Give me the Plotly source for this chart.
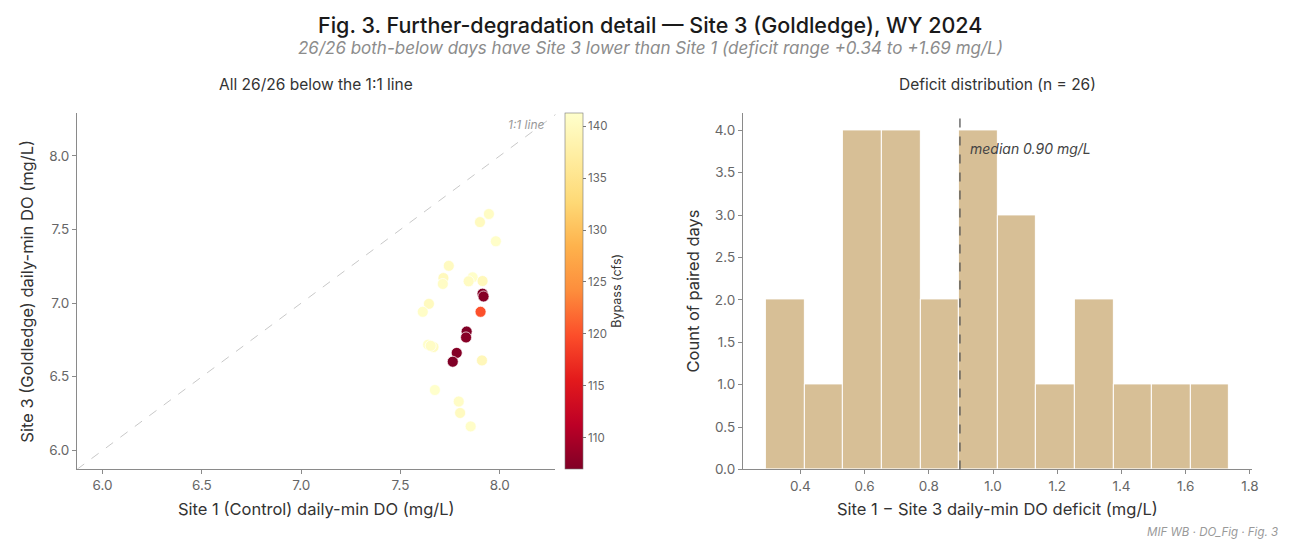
import numpy as np
import plotly.graph_objects as go

# ---------------- data ----------------
site1_do = [7.945, 7.900, 7.980, 7.743, 7.716, 7.713, 7.863, 7.843, 7.913, 7.913,
            7.643, 7.612, 7.903, 7.833, 7.830, 7.639, 7.666, 7.783, 7.763, 7.910,
            7.673, 7.793, 7.800, 7.853, 7.918, 7.652]
site3_do = [7.605, 7.550, 7.420, 7.253, 7.170, 7.130, 7.175, 7.148, 7.150, 7.064,
            6.995, 6.941, 6.941, 6.807, 6.767, 6.718, 6.702, 6.662, 6.602, 6.611,
            6.410, 6.332, 6.254, 6.163, 7.045, 6.710]
bypass_cfs = [140.5, 140.0, 141.0, 140.2, 139.8, 140.6, 141.0, 140.3, 139.6, 107.2,
              140.0, 140.8, 120.0, 107.0, 107.5, 141.0, 140.4, 107.3, 107.0, 139.5,
              141.3, 140.7, 140.1, 140.9, 107.4, 140.6]
cbar_ticks = [110, 115, 120, 125, 130, 135, 140]
scatter_ticks = [6.0, 6.5, 7.0, 7.5, 8.0]
scatter_lim = [5.871, 8.28]
scatter_ylim = [5.875, 8.29]
hist_bin_start = 0.2934
hist_bin_size = 0.1202
hist_bin_end = 1.7358
hist_xticks = [0.4, 0.6, 0.8, 1.0, 1.2, 1.4, 1.6, 1.8]
hist_yticks = [0.0, 0.5, 1.0, 1.5, 2.0, 2.5, 3.0, 3.5, 4.0]

deficit = (np.array(site1_do) - np.array(site3_do)).round(3)
median_def = float(np.median(deficit))
n = len(deficit)

W, H = 1290, 542
FONT = "Inter"
AX_COL = "#8a8a8a"
TICK_COL = "#666666"
LAB_COL = "#333333"

ylorrd_r = ["#800026", "#bd0026", "#e31a1c", "#fc4e2a", "#fd8d3c",
            "#feb24c", "#fed976", "#ffeda0", "#ffffcc"]
cscale = [[i / (len(ylorrd_r) - 1), c] for i, c in enumerate(ylorrd_r)]

fig = go.Figure()

# 1:1 line
lo = min(scatter_lim[0], scatter_ylim[0])
hi = max(scatter_lim[1], scatter_ylim[1])
fig.add_trace(go.Scatter(x=[lo, hi], y=[lo, hi], mode="lines",
                         line=dict(color="#c8c8c8", width=1, dash="dash"),
                         xaxis="x", yaxis="y", showlegend=False, hoverinfo="skip"))

fig.add_trace(go.Scatter(
    x=site1_do, y=site3_do, mode="markers", xaxis="x", yaxis="y", showlegend=False,
    marker=dict(size=11, color=bypass_cfs, colorscale=cscale,
                cmin=min(bypass_cfs), cmax=max(bypass_cfs),
                line=dict(color="white", width=0.7),
                colorbar=dict(
                    x=560 / W, xanchor="left", xpad=0, ypad=0,
                    thickness=18, thicknessmode="pixels",
                    len=(467.7 - 106.7) / H, lenmode="fraction",
                    y=(H - 467.7) / H, yanchor="bottom",
                    outlinewidth=0.6, outlinecolor="#777",
                    tickvals=cbar_ticks, ticks="outside", ticklen=3, tickcolor="#777",
                    tickfont=dict(family=FONT, size=11.5, color=TICK_COL),
                    title=dict(text="Bypass (cfs)", side="right",
                               font=dict(family=FONT, size=12.5, color=LAB_COL)),
                ))))

fig.add_trace(go.Histogram(
    x=deficit, xaxis="x2", yaxis="y2", showlegend=False,
    xbins=dict(start=hist_bin_start, end=hist_bin_end + 1e-6, size=hist_bin_size),
    autobinx=False,
    marker=dict(color="rgb(215,191,150)", line=dict(color="white", width=1))))

axis_common = dict(showgrid=False, zeroline=False, showline=True, linecolor=AX_COL,
                   linewidth=1, ticks="outside", ticklen=4, tickcolor=AX_COL,
                   tickfont=dict(family=FONT, size=13.5, color=TICK_COL), mirror=False)

fig.update_layout(
    width=W, height=H, margin=dict(l=0, r=0, t=0, b=0),
    paper_bgcolor="white", plot_bgcolor="white", bargap=0,
    xaxis=dict(domain=[69.3 / W, 550 / W], range=scatter_lim, tickvals=scatter_ticks,
               tickformat=".1f", anchor="y", **axis_common),
    yaxis=dict(domain=[(H - 467.7) / H, (H - 106.7) / H], range=scatter_ylim,
               tickvals=scatter_ticks, tickformat=".1f", anchor="x", **axis_common),
    xaxis2=dict(domain=[738.3 / W, 1250.3 / W], range=[0.221, 1.808], tickvals=hist_xticks,
                tickformat=".1f", anchor="y2", **axis_common),
    yaxis2=dict(domain=[(H - 468.3) / H, (H - 107) / H], range=[0, 4.2], tickvals=hist_yticks,
                tickformat=".1f", anchor="x2", **axis_common),
)

# median line
fig.add_shape(type="line", xref="x2", yref="y2 domain", x0=median_def, x1=median_def,
              y0=0, y1=1, line=dict(color="#555555", width=1.3, dash="dash"))

ann = []
ann.append(dict(text="Fig. 3. Further-degradation detail — Site 3 (Goldledge), WY 2024",
                x=0.5, y=1 - 17 / H, xref="paper", yref="paper", showarrow=False,
                xanchor="center", yanchor="middle",
                font=dict(family=FONT, size=21.5, color="#1a1a1a", weight=500)))
ann.append(dict(text=f"<i>{n}/{n} both-below days have Site 3 lower than Site 1 (deficit range "
                     f"+{deficit.min():.2f} to +{deficit.max():.2f} mg/L)</i>",
                x=0.5, y=1 - 41 / H, xref="paper", yref="paper", showarrow=False,
                xanchor="center", yanchor="middle",
                font=dict(family=FONT, size=17, color="#8c8c8c")))
ann.append(dict(text=f"All {n}/{n} below the 1:1 line", x=(69.3 + 550) / 2 / W, y=1 - 78 / H,
                xref="paper", yref="paper", showarrow=False, xanchor="center", yanchor="middle",
                font=dict(family=FONT, size=15.5, color=LAB_COL)))
ann.append(dict(text=f"Deficit distribution (n = {n})", x=(738.3 + 1250.3) / 2 / W, y=1 - 78 / H,
                xref="paper", yref="paper", showarrow=False, xanchor="center", yanchor="middle",
                font=dict(family=FONT, size=15.5, color=LAB_COL)))
ann.append(dict(text="Site 1 (Control) daily-min DO (mg/L)", x=(69.3 + 550) / 2 / W, y=1 - 509 / H,
                xref="paper", yref="paper", showarrow=False, xanchor="center", yanchor="middle",
                font=dict(family=FONT, size=16.5, color=LAB_COL)))
ann.append(dict(text="Site 1 − Site 3 daily-min DO deficit (mg/L)", x=(738.3 + 1250.3) / 2 / W,
                y=1 - 509 / H, xref="paper", yref="paper", showarrow=False, xanchor="center",
                yanchor="middle", font=dict(family=FONT, size=16.5, color=LAB_COL)))
ann.append(dict(text="Site 3 (Goldledge) daily-min DO (mg/L)", x=19 / W, y=1 - 287 / H,
                xref="paper", yref="paper", showarrow=False, xanchor="center", yanchor="middle",
                textangle=-90, font=dict(family=FONT, size=16.5, color=LAB_COL)))
ann.append(dict(text="Count of paired days", x=688 / W, y=1 - 287 / H,
                xref="paper", yref="paper", showarrow=False, xanchor="center", yanchor="middle",
                textangle=-90, font=dict(family=FONT, size=16.5, color=LAB_COL)))
ann.append(dict(text="<i>1:1 line</i>", x=8.24, y=8.21, xref="x", yref="y", showarrow=False,
                xanchor="right", yanchor="middle",
                font=dict(family=FONT, size=12, color="#999999")))
ann.append(dict(text=f"<i>median {median_def:.2f} mg/L</i>", x=median_def + 0.025, y=3.79,
                xref="x2", yref="y2", showarrow=False, xanchor="left", yanchor="middle",
                font=dict(family=FONT, size=14, color="#444444")))
ann.append(dict(text="<i>MIF WB · DO_Fig · Fig. 3</i>", x=1278 / W, y=1 - 532 / H,
                xref="paper", yref="paper", showarrow=False, xanchor="right", yanchor="middle",
                font=dict(family=FONT, size=11.5, color="#999999")))
fig.update_layout(annotations=ann)

fig.write_html("out.html")
